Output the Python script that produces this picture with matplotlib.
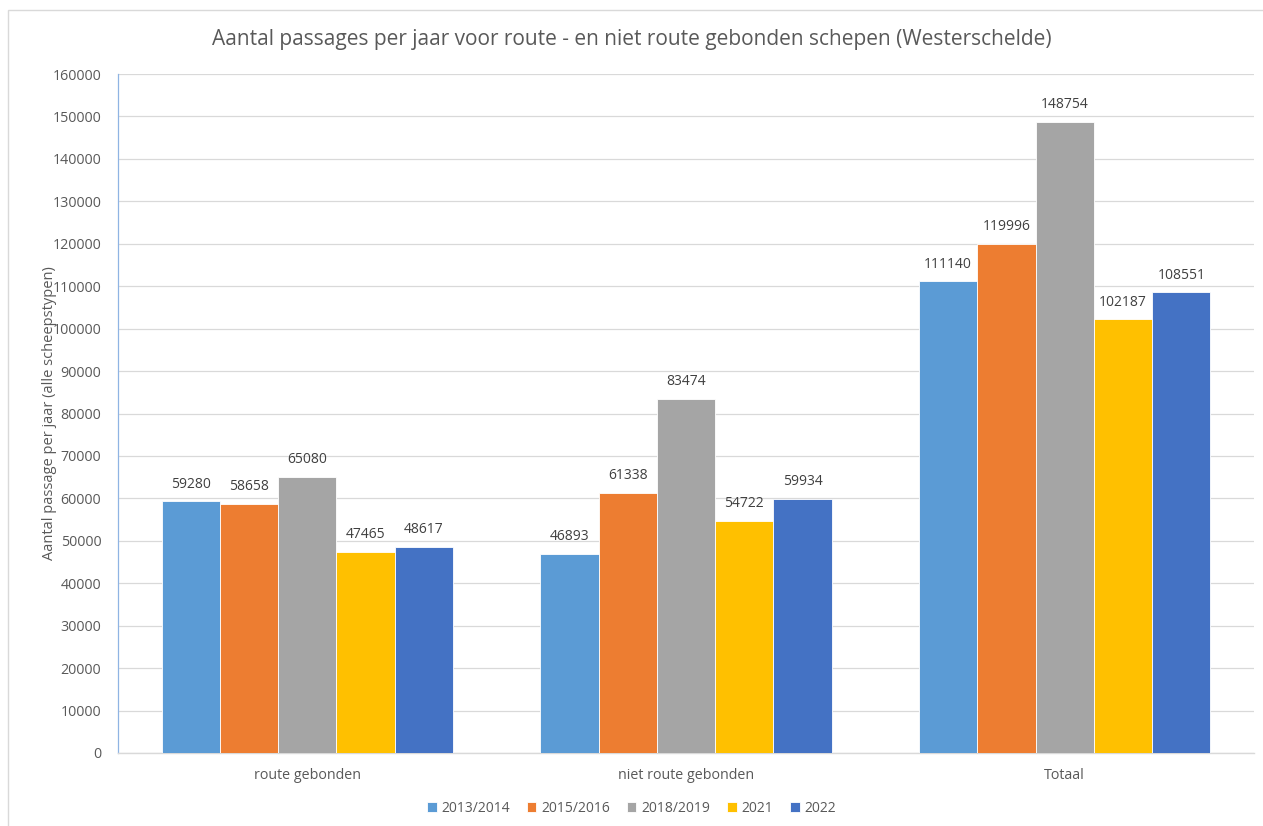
import matplotlib
matplotlib.use("Agg")
import matplotlib.pyplot as plt
import numpy as np

categories = ["route gebonden", "niet route gebonden", "Totaal"]
series_names = ["2013/2014", "2015/2016", "2018/2019", "2021", "2022"]
values_2013_2014 = [59280, 46893, 111140]
values_2015_2016 = [58658, 61338, 119996]
values_2018_2019 = [65080, 83474, 148754]
values_2021 = [47465, 54722, 102187]
values_2022 = [48617, 59934, 108551]
series_values = [values_2013_2014, values_2015_2016, values_2018_2019, values_2021, values_2022]
colors = ["#5B9BD5", "#ED7D31", "#A5A5A5", "#FFC000", "#4472C4"]

plt.rcParams["font.family"] = ["Open Sans", "DejaVu Sans"]
text_color = "#595959"

fig = plt.figure(figsize=(12.63, 8.26), dpi=100)
ax = fig.add_axes([118 / 1263, 73 / 826, (1254 - 118) / 1263, (753 - 74) / 826])

# outer chart border (left and top edges visible)
fig.patches.append(plt.Rectangle((8 / 1263, -10 / 826), (1300 - 8) / 1263, (816 + 10) / 826,
                                 transform=fig.transFigure, fill=False,
                                 edgecolor="#D9D9D9", linewidth=1.0))

x = np.arange(len(categories))
n = len(series_names)
group_width = 0.77
bar_w = group_width / n
for i, (name, vals, col) in enumerate(zip(series_names, series_values, colors)):
    pos = x - group_width / 2 + bar_w * (i + 0.5)
    bars = ax.bar(pos, vals, width=bar_w, color=col, label=name,
                  edgecolor="white", linewidth=0.6, zorder=3)
    for b, v in zip(bars, vals):
        ax.text(b.get_x() + b.get_width() / 2, v + 2300, f"{v}",
                ha="center", va="bottom", fontsize=10, color="#404040")

ax.set_xlim(-0.5, len(categories) - 0.5)
ax.set_ylim(0, 160000)
ax.set_yticks(np.arange(0, 160001, 10000))
ax.set_yticklabels([str(v) for v in range(0, 160001, 10000)], fontsize=10.3, color=text_color)
ax.set_xticks(x)
ax.set_xticklabels(categories, fontsize=10.3, color=text_color)
ax.tick_params(axis="both", length=0, pad=12)
ax.tick_params(axis="x", pad=11)
ax.yaxis.grid(True, color="#D9D9D9", linewidth=0.9, zorder=0)
ax.set_axisbelow(True)
for s in ["top", "right"]:
    ax.spines[s].set_visible(False)
ax.spines["left"].set_color("#8FB4E3")
ax.spines["left"].set_linewidth(0.9)
ax.spines["bottom"].set_color("#D9D9D9")
ax.spines["bottom"].set_linewidth(1.0)

ax.set_ylabel("Aantal passage per jaar (alle scheepstypen)", fontsize=10.5, color=text_color, labelpad=-3)
fig.text(0.5, 1 - 40 / 826, "Aantal passages per jaar voor route - en niet route gebonden schepen (Westerschelde)",
         ha="center", va="center", fontsize=15, color=text_color)

leg = fig.legend(loc="center", bbox_to_anchor=(0.5, 1 - 808 / 826), ncol=5, frameon=False,
                 fontsize=10, handlelength=0.7, handleheight=0.7, handletextpad=0.35,
                 columnspacing=1.2)
for t in leg.get_texts():
    t.set_color(text_color)

fig.savefig("out.png", dpi=100)
